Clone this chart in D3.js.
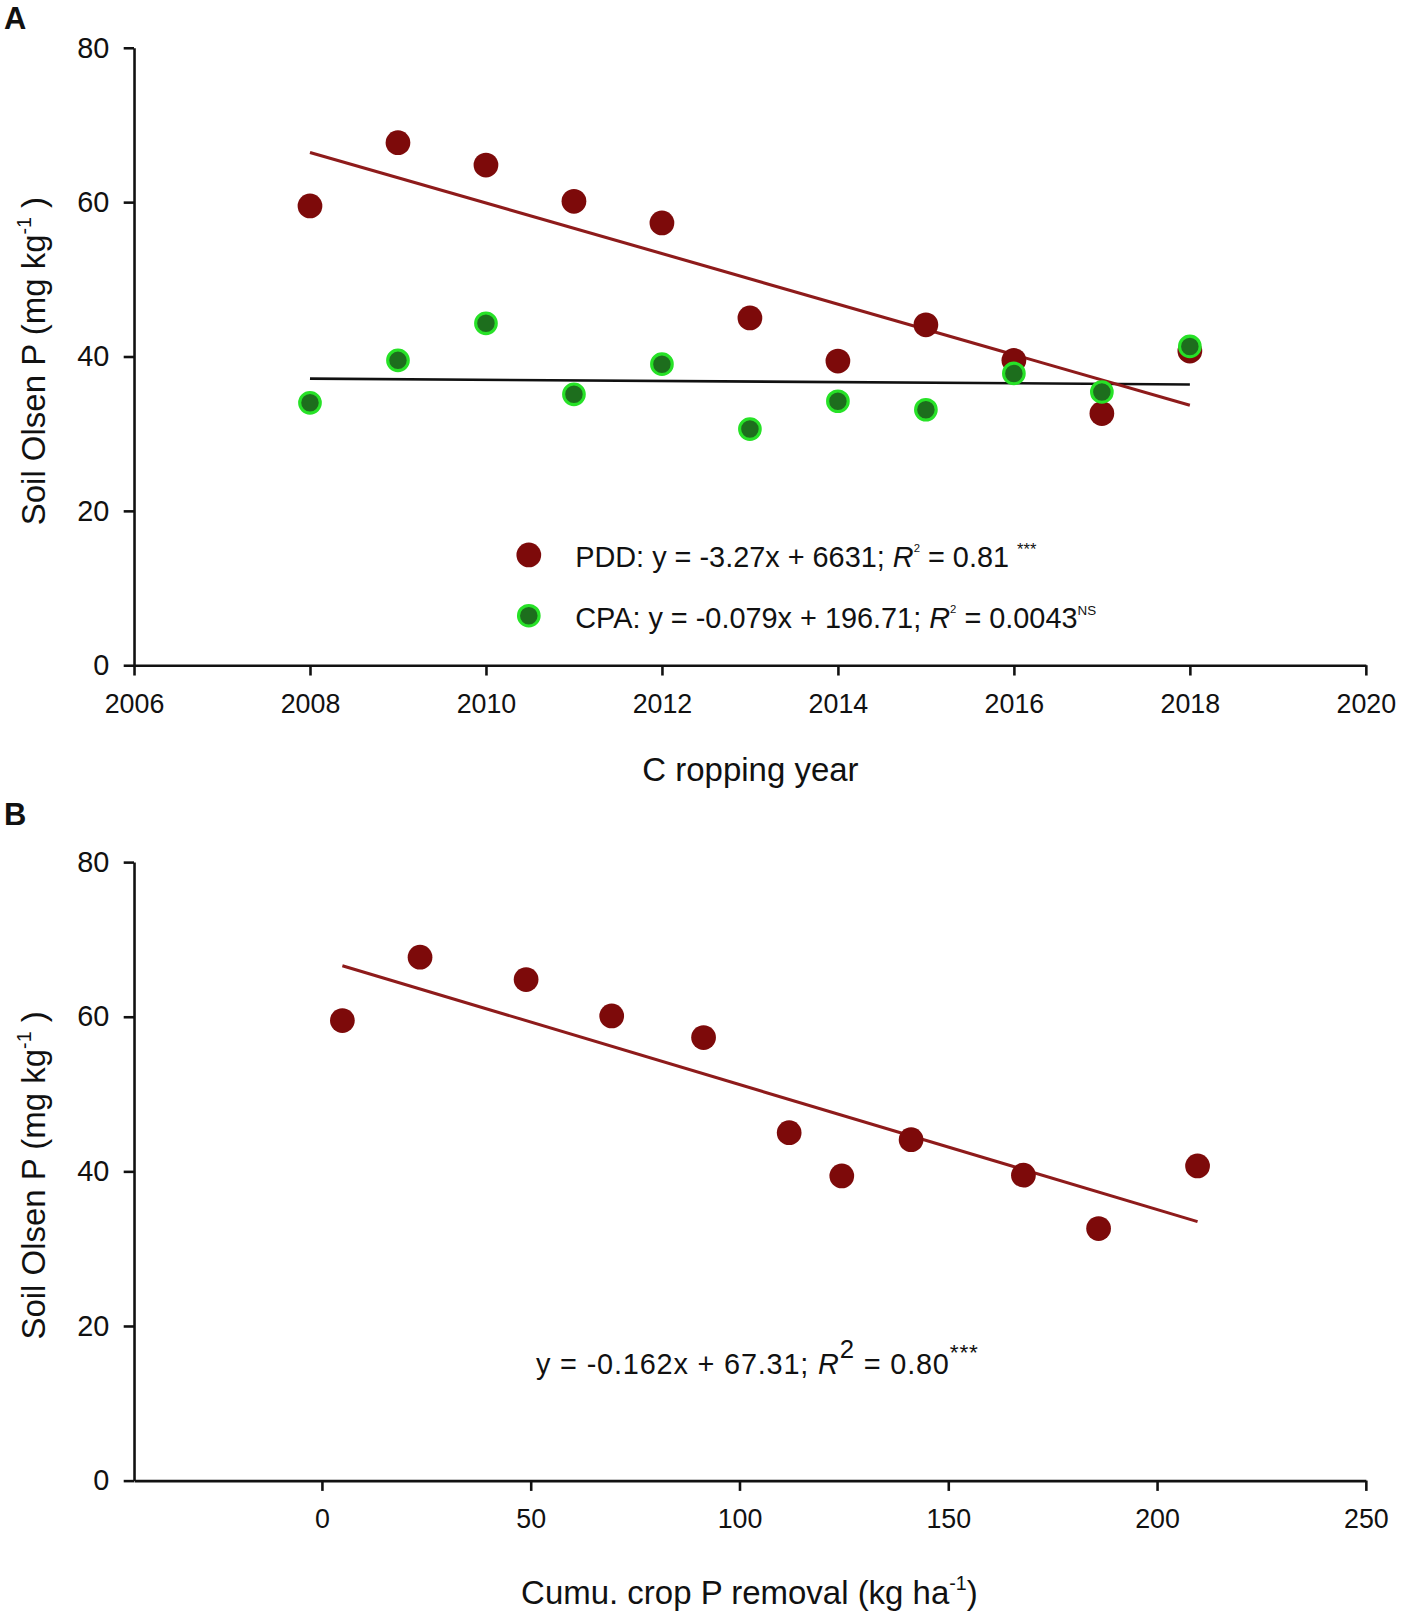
<!DOCTYPE html>
<html>
<head>
<meta charset="utf-8">
<title>Soil Olsen P</title>
<script src="https://d3js.org/d3.v7.min.js"></script>
<style>
  body, html { margin: 0; padding: 0; background: #fff; }
  svg { display: block; }
  text { font-family: "Liberation Sans", Arial, Helvetica, sans-serif; fill: #111; }
  .tick-label { font-size: 26px; }
  .y-ticks .tick-label { font-size: 28px; }
  .axis-title { font-size: 32px; }
  .legend-text { font-size: 28px; }
  .panel-tag { font-size: 30px; font-weight: bold; }
</style>
</head>
<body>
<svg id="chart" width="1405" height="1617" viewBox="0 0 1363 1568"></svg>
<script>
// --- data ---
const years = [2008, 2009, 2010, 2011, 2012, 2013, 2014, 2015, 2016, 2017, 2018];
const pddOlsenP = [59.5, 67.7, 64.8, 60.1, 57.3, 45.0, 39.4, 44.1, 39.5, 32.6, 40.7];
const cpaOlsenP = [34.0, 39.5, 44.3, 35.1, 39.0, 30.6, 34.2, 33.1, 37.8, 35.4, 41.3];
const cumPRemoval = [4.9, 23.5, 48.9, 69.4, 91.4, 111.9, 124.5, 141.1, 168.0, 186.0, 209.7];

const yearTicks = [2006, 2008, 2010, 2012, 2014, 2016, 2018, 2020];
const removalTicks = [0, 50, 100, 150, 200, 250];
const olsenTicks = [0, 20, 40, 60, 80];

const pddColor = "#7d0a0a";
const pddLine = "#8e1b1b";
const cpaFill = "#1d6e1d";
const cpaStroke = "#27e227";

const svg = d3.select("#chart");

// least squares fit, used for the trend lines
function fit(xs, ys) {
  const mx = d3.mean(xs), my = d3.mean(ys);
  let sxy = 0, sxx = 0;
  xs.forEach((x, i) => { sxy += (x - mx) * (ys[i] - my); sxx += (x - mx) * (x - mx); });
  const b = sxy / sxx;
  return { slope: b, intercept: my - b * mx };
}

function yLabel(cy) {
  const t = svg.append("text")
    .attr("class", "axis-title")
    .attr("transform", `translate(44,${cy}) rotate(-90)`)
    .attr("text-anchor", "middle");
  t.append("tspan").text("Soil Olsen P (mg kg");
  t.append("tspan").attr("font-size", "19px").attr("dy", "-14").text("-1");
  t.append("tspan").attr("dy", "14").text(" )");
}

function drawAxes(x, y, ticksX) {
  const xAxis = svg.append("g")
    .attr("transform", `translate(0,${y.range()[0]})`)
    .call(d3.axisBottom(x).tickValues(ticksX).tickFormat(d3.format("d"))
      .tickSize(10).tickPadding(18).tickSizeOuter(0));
  const yAxis = svg.append("g")
    .attr("class", "y-ticks")
    .attr("transform", `translate(${x.range()[0]},0)`)
    .call(d3.axisLeft(y).tickValues(olsenTicks).tickSize(10).tickPadding(14).tickSizeOuter(0));
  [xAxis, yAxis].forEach(a => {
    a.select(".domain").attr("stroke", "#111").attr("stroke-width", 2.5);
    a.selectAll(".tick line").attr("stroke", "#111").attr("stroke-width", 2.5);
    a.selectAll(".tick text").attr("class", "tick-label").attr("font-size", null)
      .attr("font-family", null).attr("fill", "#111");
  });
}

function trend(x, y, xs, ys, color, width) {
  const f = fit(xs, ys);
  const ends = d3.extent(xs);
  svg.append("line")
    .attr("x1", x(ends[0])).attr("y1", y(f.slope * ends[0] + f.intercept))
    .attr("x2", x(ends[1])).attr("y2", y(f.slope * ends[1] + f.intercept))
    .attr("stroke", color).attr("stroke-width", width);
}

// ---------- Panel A ----------
const xA = d3.scaleLinear().domain([2006, 2020]).range([130, 1325]);
const yA = d3.scaleLinear().domain([0, 80]).range([645, 46]);

svg.append("text").attr("class", "panel-tag").attr("x", 4).attr("y", 28).text("A");
drawAxes(xA, yA, yearTicks);
yLabel(350);
svg.append("text").attr("class", "axis-title").attr("x", 728).attr("y", 757)
  .attr("text-anchor", "middle").text("C ropping year");

trend(xA, yA, years, cpaOlsenP, "#111", 2.5);
trend(xA, yA, years, pddOlsenP, pddLine, 3);

svg.append("g").selectAll("circle")
  .data(years.map((yr, i) => [yr, pddOlsenP[i]]))
  .join("circle")
  .attr("cx", d => xA(d[0])).attr("cy", d => yA(d[1])).attr("r", 12)
  .attr("fill", pddColor);

svg.append("g").selectAll("circle")
  .data(years.map((yr, i) => [yr, cpaOlsenP[i]]))
  .join("circle")
  .attr("cx", d => xA(d[0])).attr("cy", d => yA(d[1])).attr("r", 10)
  .attr("fill", cpaFill).attr("stroke", cpaStroke).attr("stroke-width", 3);

// legend
const leg = svg.append("g");
leg.append("circle").attr("cx", 513).attr("cy", 538).attr("r", 12).attr("fill", pddColor);
leg.append("circle").attr("cx", 513).attr("cy", 597).attr("r", 10)
  .attr("fill", cpaFill).attr("stroke", cpaStroke).attr("stroke-width", 3);

const l1 = leg.append("text").attr("class", "legend-text").attr("x", 558).attr("y", 550);
l1.append("tspan").text("PDD: y = -3.27x + 6631; ");
l1.append("tspan").attr("font-style", "italic").text("R");
l1.append("tspan").attr("font-size", "11px").attr("dy", "-15").text("2");
l1.append("tspan").attr("dy", "15").text(" = 0.81 ");
l1.append("tspan").attr("font-size", "16px").attr("dy", "-12").text("***");

const l2 = leg.append("text").attr("class", "legend-text").attr("x", 558).attr("y", 609);
l2.append("tspan").text("CPA: y = -0.079x + 196.71; ");
l2.append("tspan").attr("font-style", "italic").text("R");
l2.append("tspan").attr("font-size", "11px").attr("dy", "-15").text("2");
l2.append("tspan").attr("dy", "15").text(" = 0.0043");
l2.append("tspan").attr("font-size", "13px").attr("dy", "-13").text("NS");

// ---------- Panel B ----------
const xB = d3.scaleLinear().domain([-45, 250]).range([130, 1325]);
const yB = d3.scaleLinear().domain([0, 80]).range([1436, 836]);

svg.append("text").attr("class", "panel-tag").attr("x", 4).attr("y", 800).text("B");
drawAxes(xB, yB, removalTicks);
yLabel(1140);
const tB = svg.append("text").attr("class", "axis-title").attr("x", 727).attr("y", 1556)
  .attr("text-anchor", "middle");
tB.append("tspan").text("Cumu. crop P removal (kg ha");
tB.append("tspan").attr("font-size", "19px").attr("dy", "-14").text("-1");
tB.append("tspan").attr("dy", "14").text(")");

trend(xB, yB, cumPRemoval, pddOlsenP, pddLine, 3);

svg.append("g").selectAll("circle")
  .data(cumPRemoval.map((c, i) => [c, pddOlsenP[i]]))
  .join("circle")
  .attr("cx", d => xB(d[0])).attr("cy", d => yB(d[1])).attr("r", 12)
  .attr("fill", pddColor);

const eqB = svg.append("text").attr("class", "legend-text").attr("font-size", "37px")
  .attr("letter-spacing", "0.8px").attr("x", 520).attr("y", 1333);
eqB.append("tspan").text("y = -0.162x + 67.31; ");
eqB.append("tspan").attr("font-style", "italic").text("R");
eqB.append("tspan").attr("font-size", "25px").attr("dy", "-16").text("2");
eqB.append("tspan").attr("dy", "16").text(" = 0.80");
eqB.append("tspan").attr("font-size", "22px").attr("dy", "-14").text("***");
</script>
</body>
</html>
